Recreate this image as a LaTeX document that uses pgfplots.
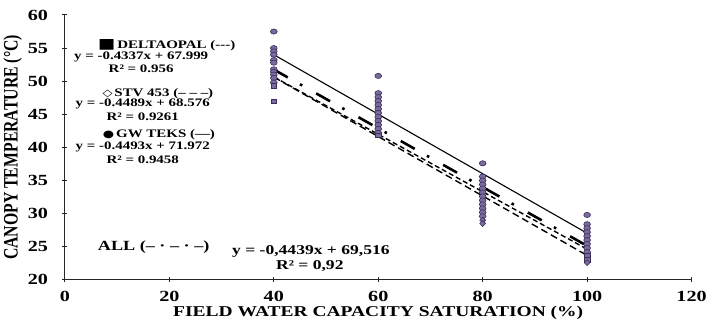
\documentclass[border=0pt]{standalone}
\usepackage{pgfplots}
\pgfplotsset{compat=1.18}
\usepackage{fontspec}
\setmainfont{Liberation Serif}
\newfontfamily\wideserif[FakeStretch=1.3]{Liberation Serif}
\newfontfamily\narrowserif[FakeStretch=0.77]{Liberation Serif}
\newfontfamily\symfont[FakeStretch=1.3]{DejaVu Sans}
\definecolor{ptfill}{HTML}{7B6B9C}
\definecolor{ptdraw}{HTML}{3B2D5C}
\begin{document}
\begin{tikzpicture}
\begin{axis}[
  scale only axis, width=627pt, height=265pt,
  xmin=0, xmax=120, ymin=20, ymax=60,
  axis lines=left,
  axis line style={-, line width=1.1pt, black!85},
  xtick={0,20,40,60,80,100,120},
  ytick={20,25,30,35,40,45,50,55,60},
  major tick length=5pt,
  tick style={line width=1pt, black!85},
  /pgf/number format/assume math mode=true,
  ticklabel style={font=\wideserif\bfseries\fontsize{15.5}{15.5}\selectfont},
  yticklabel style={xshift=-11pt},
  xticklabel style={yshift=-5pt},
  xlabel={FIELD WATER CAPACITY SATURATION (\%)},
  xlabel style={font=\wideserif\bfseries\fontsize{15}{15}\selectfont, yshift=2pt},
  ylabel={CANOPY TEMPERATURE (°C)},
  ylabel style={font=\narrowserif\bfseries\fontsize{20.5}{20.5}\selectfont, yshift=-1pt},
  clip=false,
]
% scatter points (circles)
\addplot[only marks, mark=*, mark size=2.6pt, mark options={xscale=1.3, fill=ptfill, draw=ptdraw, line width=0.6pt}]
  coordinates {
  (40,57.5) (40,55.0) (40,54.5) (40,54.0) (40,53.2) (40,52.8) (40,51.8) (40,51.4) (40,51.0) (40,50.5) (40,49.8)
  (60,50.8) (60,48.2) (60,47.6) (60,47.0) (60,46.4) (60,45.8) (60,45.2) (60,44.6) (60,44.0) (60,43.4) (60,42.8) (60,42.2)
  (80,37.6) (80,35.6) (80,35.0) (80,34.4) (80,33.8) (80,33.2) (80,32.6) (80,32.0) (80,31.4) (80,30.8) (80,30.2) (80,29.6)
  (100,29.8) (100,28.4) (100,27.8) (100,27.2) (100,26.6) (100,26.0) (100,25.4) (100,24.8) (100,24.2)
  };
% squares
\addplot[only marks, mark=square*, mark size=2.2pt, mark options={xscale=1.3, fill=ptfill, draw=ptdraw, line width=0.6pt}]
  coordinates {(40,49.3) (40,47.0) (60,41.8) (100,23.6) (100,23.0)};
% diamonds
\addplot[only marks, mark=diamond*, mark size=3pt, mark options={xscale=1.3, fill=ptfill, draw=ptdraw, line width=0.6pt}]
  coordinates {(80,29.0) (80,28.5) (100,22.6)};
% regression lines
\addplot[black, line width=1.1pt] coordinates {(40,54.000) (100,27.042)}; % GW TEKS
\addplot[black, line width=1.4pt, dash pattern=on 5pt off 3pt] coordinates {(40,50.651) (100,24.629)}; % DELTAOPAL
\addplot[black, line width=1.4pt, dash pattern=on 7pt off 4pt] coordinates {(40,50.620) (100,23.686)}; % STV 453
\addplot[black, line width=2.6pt, dash pattern=on 16pt off 14pt on 2.6pt off 16pt] coordinates {(40,51.760) (100,25.126)}; % ALL
% annotations
\node[font=\wideserif\bfseries\fontsize{11.5}{12}\selectfont] at (axis cs:19.5,55.5) {{\symfont\fontsize{14}{14}\selectfont ■}\,DELTAOPAL ({-}{-}{-})};
\node[font=\wideserif\bfseries\fontsize{11.5}{12}\selectfont] at (axis cs:14.6,53.6) {y = -0.4337x + 67.999};
\node[font=\wideserif\bfseries\fontsize{11.5}{12}\selectfont] at (axis cs:14.6,51.9) {R² = 0.956};
\node[font=\wideserif\bfseries\fontsize{11.5}{12}\selectfont] at (axis cs:17.8,48.1) {{\symfont\fontsize{10}{10}\selectfont ◇}\,STV 453 (– – –)};
\node[font=\wideserif\bfseries\fontsize{11.5}{12}\selectfont] at (axis cs:14.9,46.5) {y = -0.4489x + 68.576};
\node[font=\wideserif\bfseries\fontsize{11.5}{12}\selectfont] at (axis cs:14.9,44.7) {R² = 0.9261};
\node[font=\wideserif\bfseries\fontsize{11.5}{12}\selectfont] at (axis cs:18.0,41.9) {{\symfont\fontsize{10}{10}\selectfont ●}\,GW TEKS (—)};
\node[font=\wideserif\bfseries\fontsize{11.5}{12}\selectfont] at (axis cs:14.9,40.1) {y = -0.4493x + 71.972};
\node[font=\wideserif\bfseries\fontsize{11.5}{12}\selectfont] at (axis cs:14.9,38.1) {R² = 0.9458};
\node[font=\wideserif\bfseries\fontsize{14}{14}\selectfont] at (axis cs:17.0,25.0) {ALL (– · – · –)};
\node[font=\wideserif\bfseries\fontsize{13.5}{14}\selectfont] at (axis cs:47.1,24.25) {y = -0,4439x + 69,516};
\node[font=\wideserif\bfseries\fontsize{13.5}{14}\selectfont] at (axis cs:46.9,22.1) {R² = 0,92};
\end{axis}
% top margin (empty strut above the axis)
\node[anchor=south, inner sep=0pt, outer sep=0pt] at ([yshift=7pt]current axis.north) {\rule{0pt}{8pt}};
\end{tikzpicture}
\end{document}
